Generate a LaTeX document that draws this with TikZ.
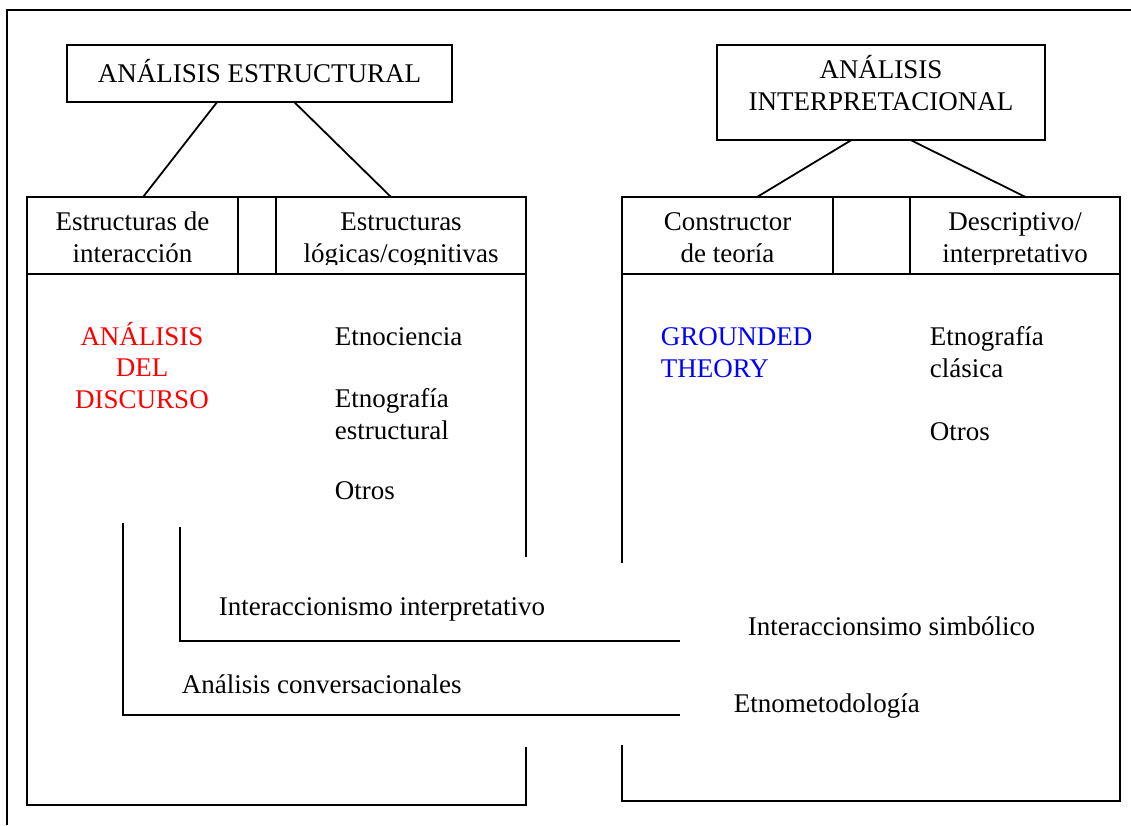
\documentclass[tikz,border=0pt]{standalone}
\usepackage{fontspec}
\setmainfont{Liberation Serif}
\usetikzlibrary{calc}

\begin{document}
\begin{tikzpicture}[
                x = 1pt, y = -1pt,
                line width = 1.8pt,
                caja/.style = {rectangle, draw, inner sep=0pt, outer sep=0pt},
                txt/.style = {inner sep=0pt, font=\fontsize{27}{31.5}\selectfont, anchor=base west, align=left},
                cab/.style = {txt, anchor=base, align=center}
                    ]
                \useasboundingbox (0,0) rectangle (1131,825);
                % marco exterior
                \draw (7,825) -- (7,10) -- (1131,10);
                % cajas superiores
                \node[caja, minimum width=385pt, minimum height=57pt] (estr) at (259.5,73.5) {};
                \node[caja, minimum width=328pt, minimum height=95pt] (interp) at (881,92.5) {};
                \node[cab] (estrT) at (259.5,82) {ANÁLISIS ESTRUCTURAL};
                \node[cab] (interpT) at (881,110) {ANÁLISIS\\INTERPRETACIONAL};
                % cabeceras
                \begin{scope}[nodes={caja, minimum height=77pt}]
                \node[minimum width=211pt] (inter) at (132.5,235.5) {};
                \node[minimum width=38pt] (hueco1) at (257,235.5) {};
                \node[minimum width=250pt] (logic) at (401,235.5) {};
                \node[minimum width=211pt] (constr) at (727.5,235.5) {};
                \node[minimum width=77pt] (hueco2) at (871.5,235.5) {};
                \node[minimum width=210pt] (descr) at (1015,235.5) {};
                \end{scope}
                \begin{scope}
                \clip (0,190) rectangle (1131,264);
                \node[cab] (interT) at (inter |- 0,262) {Estructuras de\\interacción};
                \node[cab] (logicT) at (logic |- 0,262) {Estructuras\\lógicas/cognitivas};
                \node[cab] (constrT) at (constr |- 0,262) {Constructor\\de teoría};
                \node[cab] (descrT) at (descr |- 0,262) {Descriptivo/\\interpretativo};
                \end{scope}
                \draw ($(estr.south west)!0.39!(estr.south east)$) -- ($(inter.north west)!0.55!(inter.north east)$);
                \draw ($(estr.south west)!0.59!(estr.south east)$) -- ($(logic.north west)!0.46!(logic.north east)$);
                \draw ($(interp.south west)!0.41!(interp.south east)$) -- ($(constr.north west)!0.64!(constr.north east)$);
                \draw ($(interp.south west)!0.59!(interp.south east)$) -- ($(descr.north west)!0.55!(descr.north east)$);
                % paneles
                \draw (inter.south west) -- (27,805) -- (526,805) -- (526,747);
                \draw (logic.south east) -- (526,557);
                \draw (constr.south west) -- (622,563);
                \draw (622,745) -- (622,801) -- (1120,801) -- (descr.south east);
                % textos
                \node[cab, red] (discurso) at (142,408) {ANÁLISIS\\DEL\\DISCURSO};
                \node[txt] (etnoc) at (334,345) {Etnociencia};
                \node[txt] (etnoe) at (334,439) {Etnografía\\estructural};
                \node[txt] (otros1) at (334,499) {Otros};
                \node[txt, blue] (grounded) at (660,377) {GROUNDED\\THEORY};
                \node[txt] (etnocl) at (929,377) {Etnografía\\clásica};
                \node[txt] (otros2) at (929,440) {Otros};
                \node[txt] (intint) at (218,615) {Interaccionismo interpretativo};
                \node[txt] (conv) at (181,693) {Análisis conversacionales};
                \node[txt] (simb) at (747,635) {Interaccionsimo simbólico};
                \node[txt] (etnom) at (733,712) {Etnometodología};
                % corchetes
                \draw (123,523) -- (123,715) -- (680,715);
                \draw (180,527) -- (180,641) -- (680,641);
            \end{tikzpicture}
\end{document}
